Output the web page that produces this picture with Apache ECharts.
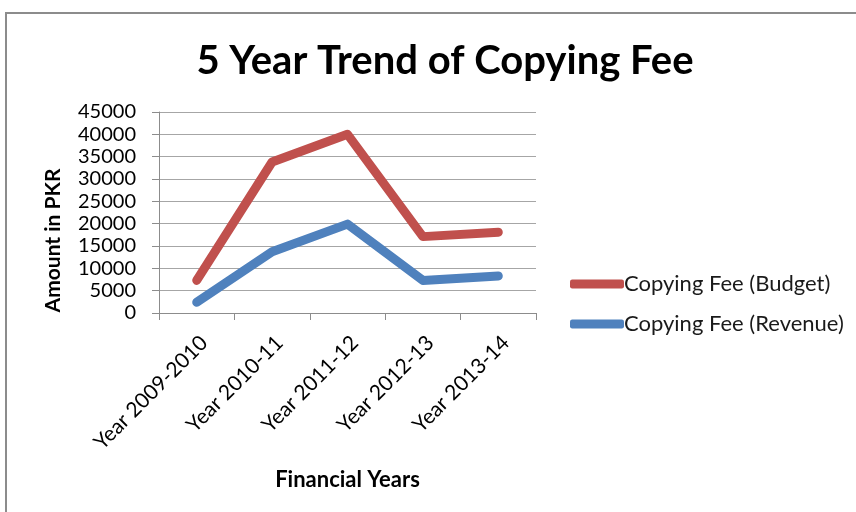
<!DOCTYPE html>
<html>
<head>
<meta charset="utf-8">
<script src="https://cdn.jsdelivr.net/npm/echarts@6/dist/echarts.min.js"></script>
<style>
  html, body { margin: 0; padding: 0; background: #fff; }
  #chart { width: 856px; height: 512px; }
</style>
</head>
<body>
<div id="chart"></div>
<script>
// Financial years and copying fee amounts (PKR)
const years = ['Year 2009-2010', 'Year 2010-11', 'Year 2011-12', 'Year 2012-13', 'Year 2013-14'];
const budget = [7300, 33800, 40000, 17100, 18100];
const revenue = [2400, 13700, 19900, 7300, 8300];
const yTicks = { min: 0, max: 45000, step: 5000 };

const font = 'Lato, "Open Sans", sans-serif';
const chart = echarts.init(document.getElementById('chart'));

chart.setOption({
  backgroundColor: '#fff',
  animation: false,
  graphic: [{
    type: 'rect',
    shape: { x: 6, y: 13, width: 870, height: 520 },
    style: { fill: 'none', stroke: '#8c8c8c', lineWidth: 2 },
    silent: true
  }],
  title: {
    text: '5 Year Trend of Copying Fee',
    left: 440,
    textAlign: 'center',
    top: 36,
    textStyle: { fontFamily: font, fontSize: 40, fontWeight: 'bold', color: '#000' }
  },
  grid: { left: 159, right: 320, top: 112, bottom: 199, containLabel: false },
  legend: {
    orient: 'vertical',
    left: 565,
    top: 268,
    itemGap: 18,
    itemWidth: 54,
    itemHeight: 9,
    icon: 'roundRect',
    textStyle: { fontFamily: font, fontSize: 22, color: '#1a1a1a', padding: [0, 0, 0, -5] },
    data: ['Copying Fee (Budget)', 'Copying Fee (Revenue)']
  },
  xAxis: {
    type: 'category',
    data: years,
    boundaryGap: true,
    name: 'Financial Years',
    nameLocation: 'middle',
    nameGap: 156,
    nameTextStyle: { fontFamily: font, fontSize: 22, fontWeight: 'bold', color: '#000' },
    axisLine: { show: true, lineStyle: { color: '#8c8c8c', width: 1 } },
    axisTick: { show: true, alignWithLabel: false, length: 7, lineStyle: { color: '#8c8c8c' } },
    axisLabel: {
      rotate: 45, margin: 19, verticalAlign: 'top',
      fontFamily: font, fontSize: 21, color: '#000', interval: 0
    }
  },
  yAxis: {
    type: 'value',
    min: yTicks.min,
    max: yTicks.max,
    interval: yTicks.step,
    name: 'Amount in PKR',
    nameLocation: 'middle',
    nameRotate: 90,
    nameGap: 95,
    nameTextStyle: { fontFamily: font, fontSize: 21, fontWeight: 'bold', color: '#000', padding: [0, 56, 0, 0] },
    axisLine: { show: true, lineStyle: { color: '#8c8c8c', width: 1 } },
    axisTick: { show: true, length: 7, lineStyle: { color: '#8c8c8c' } },
    axisLabel: { margin: 23, fontFamily: font, fontSize: 20, color: '#000', formatter: v => String(v) },
    splitLine: { show: true, lineStyle: { color: '#a6a6a6', width: 1 } }
  },
  series: [
    {
      name: 'Copying Fee (Budget)',
      type: 'line',
      data: budget,
      symbol: 'none',
      color: '#C0504D',
      lineStyle: { width: 9, color: '#C0504D', cap: 'round', join: 'round' }
    },
    {
      name: 'Copying Fee (Revenue)',
      type: 'line',
      data: revenue,
      symbol: 'none',
      color: '#4F81BD',
      lineStyle: { width: 9, color: '#4F81BD', cap: 'round', join: 'round' }
    }
  ]
});
</script>
</body>
</html>
